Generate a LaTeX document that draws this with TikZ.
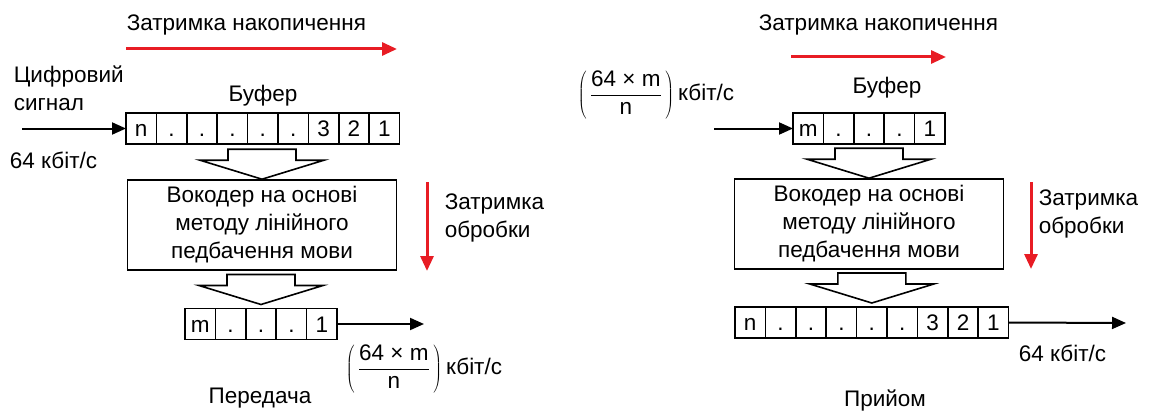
\documentclass[tikz,border=0pt]{standalone}
\usepackage{fontspec}
\setmainfont{Liberation Sans}
\usepackage{tikz}
\usetikzlibrary{calc,positioning,arrows.meta}
\definecolor{delayred}{RGB}{232,28,36}

\begin{document}
\begin{tikzpicture}[x=1pt, y=-1pt, line width=1.6pt,
		every node/.style={font=\fontsize{22.5}{28}\selectfont, inner sep=0pt},
		cell/.style={draw, minimum width=30.4pt, minimum height=31pt, text height=16pt, text depth=0pt, outer sep=0pt},
		vocbox/.style={draw, minimum width=269pt, minimum height=90pt, align=center},
		blk/.style={line width=2pt, -{Triangle[length=14pt,width=12pt]}},
		delay/.style={delayred, line width=3pt, -{Triangle[length=15pt,width=13pt]}},
		blockarrow/.pic={\draw[fill=white] (0,0) -- (62,-19) -- (34,-19) -- (34,-30) -- (-34,-30) -- (-34,-19) -- (-62,-19) -- cycle;}]
				 \useasboundingbox (0,0) rectangle (1150,412);
				 %\draw[color=gray, help lines, step=10, opacity=0.3] (0,0) grid (1150,412); %help grids
				 % transmit side
				 \coordinate (accL0) at (126,49) ;
				 \coordinate (accL1) at (397,49) ;
				 \coordinate (inL) at (22,128.5) ;
				 \coordinate (procL0) at (427,182) ;
				 \coordinate (procL1) at (427,271) ;
				 \coordinate (outL) at (424,324) ;
				 \node[anchor=west] (accLtxt) at (126,25) {Затримка накопичення};
				 \node[anchor=west, align=left] (sigL) at (13,88) {Цифровий\\сигнал};
				 \node[anchor=west] (rateL) at (9,160) {64 кбіт/с};
				 \node (bufL) at (263,96) {Буфер};
				 \foreach \t [count=\i] in {n,.,.,.,.,.,3,2,1}
				 	\node[cell] (tl\i) at ({126+30.4*(\i-0.5)},128.5) {\t};
				 \node[vocbox] (vocL) at (262,225) {Вокодер на основі\\методу лінійного\\педбачення мови};
				 \node[anchor=west, align=left] (procLtxt) at (444,218) {Затримка\\обробки};
				 \foreach \t [count=\i] in {m,.,.,.,1}
				 	\node[cell] (bl\i) at ({185+30.4*(\i-0.5)},324) {\t};
				 \node[anchor=west] (fracL) at (345,369) {$\displaystyle\left(\,\frac{\mbox{64 × m}}{\mbox{n}}\,\right)$\hspace{4pt}кбіт/с};
				 \node (txL) at (260,398) {Передача};
				 \draw[delay] (accL0)--(accL1);
				 \draw[delay] (procL0)--(procL1);
				 \draw[blk] (inL)--(tl1.west);
				 \draw[blk] (bl5.east)--(outL);
				 \pic at (vocL.north) {blockarrow};
				 \pic at ($(bl3.north)+(0,-4)$) {blockarrow};
				 % receive side
				 \coordinate (accR0) at (791,57) ;
				 \coordinate (accR1) at (946,57) ;
				 \coordinate (inR) at (714,128.5) ;
				 \coordinate (procR0) at (1031,182) ;
				 \coordinate (procR1) at (1031,269) ;
				 \coordinate (outR) at (1126,323) ;
				 \node[anchor=west] (accRtxt) at (758,25) {Затримка накопичення};
				 \node[anchor=west] (fracR) at (577,95) {$\displaystyle\left(\,\frac{\mbox{64 × m}}{\mbox{n}}\,\right)$\hspace{4pt}кбіт/с};
				 \node (bufR) at (887,88) {Буфер};
				 \foreach \t [count=\i] in {m,.,.,.,1}
				 	\node[cell] (tr\i) at ({793+30.4*(\i-0.5)},128.5) {\t};
				 \node[vocbox] (vocR) at (869,224) {Вокодер на основі\\методу лінійного\\педбачення мови};
				 \node[anchor=west, align=left] (procRtxt) at (1038,214) {Затримка\\обробки};
				 \foreach \t [count=\i] in {n,.,.,.,.,.,3,2,1}
				 	\node[cell] (br\i) at ({735+30.4*(\i-0.5)},322.5) {\t};
				 \node[anchor=west] (rateR) at (1018,353) {64 кбіт/с};
				 \node (rxR) at (885,400) {Прийом};
				 \draw[delay] (accR0)--(accR1);
				 \draw[delay] (procR0)--(procR1);
				 \draw[blk] (inR)--(tr1.west);
				 \draw[blk] (br9.east)--(outR);
				 \pic at (vocR.north) {blockarrow};
				 \pic at ($(br5.north)+(0,-4)$) {blockarrow};
\end{tikzpicture}
\end{document}
